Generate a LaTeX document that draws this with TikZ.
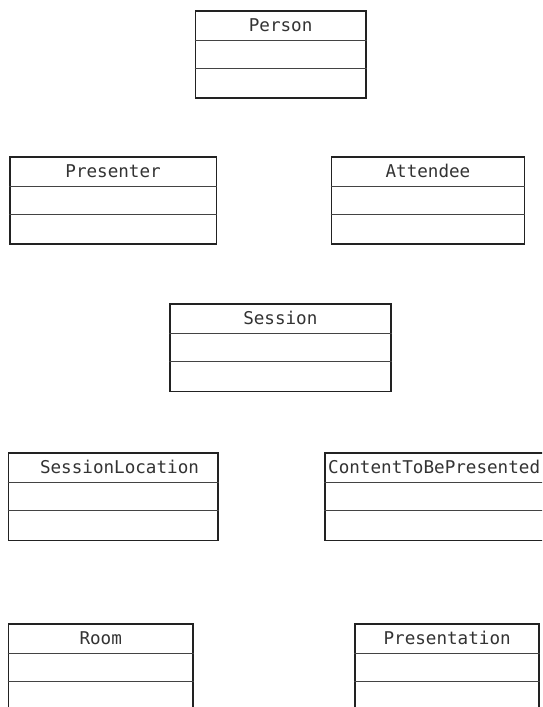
\documentclass[tikz,border=0pt]{standalone}
\usepackage{fontspec}
\newfontfamily\umlfont{DejaVu Sans Mono}
\definecolor{ink}{HTML}{222222}
\definecolor{txt}{HTML}{333333}
\begin{document}
\begin{tikzpicture}[x=1pt,y=-1pt,
  clsbox/.style={draw=ink, line width=1.7pt, rectangle, inner sep=0pt, minimum height=87.3pt, anchor=north west},
  divline/.style={draw=ink!85, line width=1.3pt},
  lbl/.style={inner sep=0pt, font=\umlfont\fontsize{17.6}{20}\selectfont, text=txt, anchor=base}]
\useasboundingbox (0,0) rectangle (542,707);
\clip (0,0) rectangle (542,707);
\fill[white] (0,0) rectangle (542,707);
% boxes
\node[clsbox, minimum width=170.5pt] (person) at (194.5,10) {};
\node[clsbox, minimum width=206.5pt] (presenter) at (9,156) {};
\node[clsbox, minimum width=192.8pt] (attendee) at (330.7,156) {};
\node[clsbox, minimum width=221pt] (session) at (169,303.3) {};
\node[clsbox, minimum width=209.8pt] (sessionloc) at (7.5,452.3) {};
\node[clsbox, minimum width=236pt] (content) at (324,452.3) {};
\node[clsbox, minimum width=184.8pt] (room) at (7.5,623.3) {};
\node[clsbox, minimum width=184pt] (presentation) at (354.3,623.3) {};
% dividers
\foreach \b in {person,presenter,attendee,session,sessionloc,content,room,presentation}{
  \draw[divline] ([yshift=-30.5pt]\b.north west) -- ([yshift=-30.5pt]\b.north east);
  \draw[divline] ([yshift=-58.5pt]\b.north west) -- ([yshift=-58.5pt]\b.north east);
}
% labels
\node[lbl] (personlbl) at ([yshift=-21.3pt]person.north) {Person};
\node[lbl] (presenterlbl) at ([yshift=-21.3pt]presenter.north) {Presenter};
\node[lbl] (attendeelbl) at ([yshift=-21.3pt]attendee.north) {Attendee};
\node[lbl] (sessionlbl) at ([yshift=-21.3pt]session.north) {Session};
\node[lbl] (sessionloclbl) at (119.5,473.6) {SessionLocation};
\node[lbl, anchor=base west] (contentlbl) at (328,473.6) {ContentToBePresented};
\node[lbl] (roomlbl) at ([yshift=-21.3pt]room.north) {Room};
\node[lbl] (presentationlbl) at ([yshift=-21.3pt]presentation.north) {Presentation};
\end{tikzpicture}
\end{document}
